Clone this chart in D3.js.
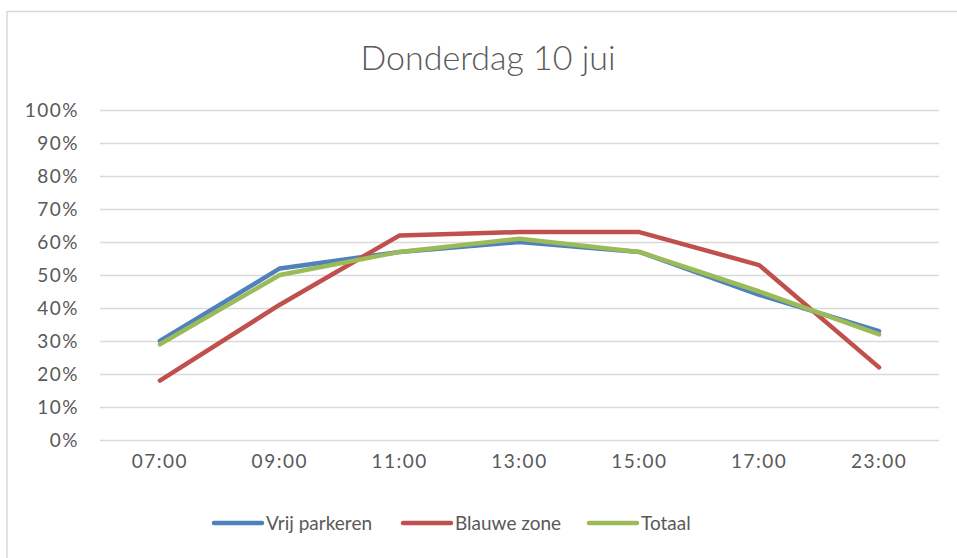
<!DOCTYPE html>
<html>
<head>
<meta charset="utf-8">
<script src="https://cdn.jsdelivr.net/npm/d3@7"></script>
<style>
  body { margin: 0; background: #fff; }
  text { font-family: Lato, "Open Sans", sans-serif; fill: #595959; }
</style>
</head>
<body>
<div id="chart"></div>
<script>
// Data
const hours = ["07:00", "09:00", "11:00", "13:00", "15:00", "17:00", "23:00"];
const vrijParkeren = [30, 52, 57, 60, 57, 44, 33];
const blauweZone = [18, 41, 62, 63, 63, 53, 22];
const totaal = [29, 50, 57, 61, 57, 45, 32];
const seriesNames = ["Vrij parkeren", "Blauwe zone", "Totaal"];
const yTicks = [0, 10, 20, 30, 40, 50, 60, 70, 80, 90, 100];

const series = [
  { name: seriesNames[0], values: vrijParkeren, color: "#4f81bd" },
  { name: seriesNames[1], values: blauweZone, color: "#c0504d" },
  { name: seriesNames[2], values: totaal, color: "#9bbb59" },
];

const W = 957, H = 558;
const plot = { left: 100, right: 939, top: 110, bottom: 440 };

const svg = d3.select("#chart").append("svg")
  .attr("width", W).attr("height", H);

// chart frame
svg.append("rect")
  .attr("x", 7).attr("y", 11.5)
  .attr("width", 1000).attr("height", 600)
  .attr("fill", "#fff")
  .attr("stroke", "#d9d9d9").attr("stroke-width", 1.5);

// title
svg.append("text")
  .attr("x", 488).attr("y", 70)
  .attr("text-anchor", "middle")
  .style("font-size", "34px")
  .style("font-weight", 300)
  .text("Donderdag 10 jui");

const x = d3.scaleBand().domain(hours).range([plot.left, plot.right]);
const y = d3.scaleLinear().domain([0, 100]).range([plot.bottom, plot.top]);

// gridlines + y labels
const yAxis = d3.axisLeft(y)
  .tickValues(yTicks)
  .tickSize(-(plot.right - plot.left))
  .tickPadding(21)
  .tickFormat(d => d + "%");

svg.append("g")
  .attr("transform", `translate(${plot.left},0)`)
  .call(yAxis)
  .call(g => g.select(".domain").remove())
  .call(g => g.selectAll(".tick line").attr("stroke", "#d9d9d9").attr("stroke-width", 1.3))
  .call(g => g.selectAll(".tick text")
    .attr("fill", "#595959")
    .style("font-size", "19px")
    .style("letter-spacing", "1.5px")
    .style("font-family", "Lato, sans-serif"));

// x labels
svg.append("g")
  .attr("transform", `translate(0,${plot.bottom})`)
  .call(d3.axisBottom(x).tickSize(0).tickPadding(15))
  .call(g => g.select(".domain").remove())
  .call(g => g.selectAll(".tick text")
    .attr("fill", "#595959")
    .style("font-size", "19px")
    .style("letter-spacing", "1.5px")
    .style("font-family", "Lato, sans-serif"));

// lines
const line = d3.line()
  .x((d, i) => x(hours[i]) + x.bandwidth() / 2)
  .y(d => y(d));

svg.append("g").selectAll("path")
  .data(series)
  .join("path")
  .attr("d", d => line(d.values))
  .attr("fill", "none")
  .attr("stroke", d => d.color)
  .attr("stroke-width", 4.5)
  .attr("stroke-linejoin", "round")
  .attr("stroke-linecap", "round");

// legend
const legendX = [214, 403, 589];
const legend = svg.append("g").selectAll("g")
  .data(series)
  .join("g")
  .attr("transform", (d, i) => `translate(${legendX[i]},523)`);

legend.append("line")
  .attr("x1", 0).attr("x2", 48)
  .attr("stroke", d => d.color)
  .attr("stroke-width", 4.5)
  .attr("stroke-linecap", "round");

legend.append("text")
  .attr("x", 52).attr("y", 7)
  .style("font-size", "19px")
  .text(d => d.name);
</script>
</body>
</html>
